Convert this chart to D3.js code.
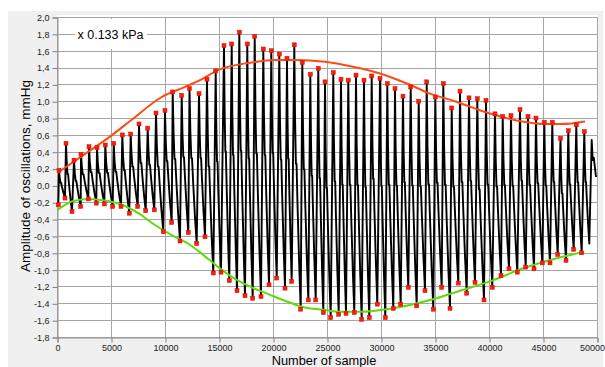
<!DOCTYPE html>
<html><head><meta charset="utf-8">
<script src="https://cdn.jsdelivr.net/npm/d3@7"></script>
<style>body{margin:0;background:#fff}svg{display:block}text{font-family:"Liberation Sans",Arial,sans-serif}</style>
</head><body><svg id="c" width="605" height="367"></svg>
<script>
// ---- data (sample number, mmHg) ----
const troughX = [120,741,1389,2194,2898,3639,4380,5157,5926,6694,7472,8213,9009,9843,10620,11389,12157,12935,13704,14472,15185,15954,16667,17407,18120,18889,19630,20343,21111,21731,22565,23269,23954,24657,25343,26083,26759,27528,28213,28917,29657,30398,31139,31824,32528,33306,34074,34843,35620,36389,37157,37935,38704,39537,40306,41111,41852,42620,43398,44167,44935,45648,46361,47130,47843,48583];
const troughY = [-0.23,-0.15,-0.31,-0.25,-0.16,-0.21,-0.22,-0.25,-0.25,-0.33,-0.25,-0.30,-0.29,-0.55,-0.44,-0.66,-0.56,-0.69,-0.61,-1.04,-1.03,-1.13,-1.25,-1.31,-1.34,-1.32,-1.18,-1.10,-1.22,-1.14,-1.47,-1.36,-1.36,-1.51,-1.57,-1.53,-1.52,-1.51,-1.59,-1.57,-1.41,-1.57,-1.46,-1.41,-1.21,-1.43,-1.25,-1.47,-1.21,-1.46,-1.16,-1.28,-1.15,-1.36,-1.21,-1.07,-0.99,-1.03,-0.97,-0.99,-0.92,-0.92,-0.82,-0.89,-0.76,-0.80];
const peakX = [185,833,1574,2222,2963,3704,4472,5250,6046,6824,7593,8398,9167,10000,10713,11546,12269,13148,13889,14694,15463,16176,16880,17620,18306,19102,19843,20583,21296,21972,22713,23454,24194,24815,25583,26296,26972,27685,28426,29139,29907,30583,31296,32037,32750,33491,34231,35028,35769,36546,37315,38148,38917,39722,40556,41269,42037,42870,43611,44352,45120,45861,46620,47343,48083,48824];
const peakY = [0.18,0.50,0.30,0.37,0.46,0.45,0.48,0.50,0.60,0.61,0.73,0.68,0.86,0.89,1.11,1.07,1.15,1.09,1.26,1.36,1.66,1.68,1.82,1.68,1.77,1.62,1.60,1.56,1.51,1.67,1.46,1.32,1.39,1.23,1.34,1.26,1.25,1.31,1.25,1.30,1.27,1.21,1.15,1.06,1.17,1.00,1.23,1.05,1.21,0.92,1.12,1.04,1.03,1.01,0.85,0.82,0.83,0.90,0.82,0.80,0.75,0.75,0.56,0.65,0.72,0.64];
// unmarked last pulse at the right edge
const tailX = [49287,49509,49600,49700,49800,49907];
const tailY = [-0.69,0.54,0.30,0.33,0.22,0.10];
// pulse descent shape: [time fraction peak->next trough, level fraction]
const pulseShape = [[0,1],[0.12,0.72],[0.25,0.55],[0.35,0.55],[0.5,0.4],[0.75,0.18],[1,0]];
// envelopes
const upperEnvX = [60,2435,4907,6917,9694,11852,13241,14907,18028,20185,22037,24815,27407,29907,32407,34537,36852,39907,43056,45185,46759,48889];
const upperEnvY = [0.15,0.36,0.58,0.78,1.05,1.17,1.25,1.37,1.46,1.49,1.49,1.47,1.41,1.33,1.21,1.09,1.00,0.86,0.76,0.73,0.73,0.76];
const lowerEnvX = [60,1361,2898,4444,5991,7528,9074,10620,12130,13398,14935,16481,18028,19565,21111,22657,24815,26204,28056,30528,32991,35157,37315,40300,43028,46111,48731];
const lowerEnvY = [-0.29,-0.19,-0.16,-0.18,-0.23,-0.33,-0.47,-0.59,-0.69,-0.81,-0.97,-1.11,-1.21,-1.29,-1.37,-1.44,-1.48,-1.50,-1.50,-1.47,-1.41,-1.34,-1.25,-1.13,-0.99,-0.87,-0.79];
const xTicks = [0,5000,10000,15000,20000,25000,30000,35000,40000,45000,50000];
const yTicks = [2.0,1.8,1.6,1.4,1.2,1.0,0.8,0.6,0.4,0.2,0.0,-0.2,-0.4,-0.6,-0.8,-1.0,-1.2,-1.4,-1.6,-1.8];
const yTickLabels = ["2,0","1,8","1,6","1,4","1,2","1,0","0,8","0,6","0,4","0,2","0,0","-0,2","-0,4","-0,6","-0,8","-1,0","-1,2","-1,4","-1,6","-1,8"];

// ---- drawing ----
const svg = d3.select("#c");
const L = 57, R = 597, T = 17, B = 337;
const x = d3.scaleLinear().domain([0, 50000]).range([L, R]);
const y = d3.scaleLinear().domain([-1.8, 2.0]).range([B, T]);

svg.append("rect").attr("x", 8).attr("y", 11).attr("width", 595).attr("height", 356).attr("fill", "#f0f0f0");
svg.append("rect").attr("x", L).attr("y", 15).attr("width", R - L + 1).attr("height", B - 15).attr("fill", "#fff");

// grid
const grid = svg.append("g").attr("stroke", "#a6a6a6").attr("stroke-width", 1);
yTicks.forEach(v => grid.append("line").attr("x1", L).attr("x2", R).attr("y1", Math.round(y(v)) + 0.5).attr("y2", Math.round(y(v)) + 0.5));
xTicks.forEach(v => grid.append("line").attr("y1", T).attr("y2", B).attr("x1", Math.round(x(v)) + 0.5).attr("x2", Math.round(x(v)) + 0.5));

// axes
const yAxis = d3.axisLeft(y).tickValues(yTicks).tickSize(5).tickPadding(3)
  .tickFormat(d => yTickLabels[yTicks.indexOf(d)]);
const gy = svg.append("g").attr("transform", `translate(${L + 0.5},0.5)`).call(yAxis);
const xAxis = d3.axisBottom(x).tickValues(xTicks).tickSize(5).tickPadding(2).tickFormat(d => String(d));
const gx = svg.append("g").attr("transform", `translate(0.5,${B + 0.5})`).call(xAxis);
[gx, gy].forEach(g => {
  g.select(".domain").attr("stroke", "#909090");
  g.selectAll(".tick line").attr("stroke", "#808080");
  g.selectAll("text").attr("font-size", 9).attr("fill", "#222").attr("font-family", "'Liberation Sans',Arial,sans-serif");
});
// keep the last x label inside the window
gx.selectAll(".tick text").filter(d => d === xTicks[xTicks.length - 1])
  .attr("text-anchor", "end").attr("x", 604 - x(xTicks[xTicks.length - 1]));

// signal
const pts = [];
for (let i = 0; i < peakX.length; i++) {
  pts.push([troughX[i], troughY[i]]);
  pts.push([peakX[i], peakY[i]]);
  const nx = i + 1 < troughX.length ? troughX[i + 1] : tailX[0];
  const ny = i + 1 < troughY.length ? troughY[i + 1] : tailY[0];
  for (let k = 1; k < pulseShape.length - 1; k++) {
    const [ft, fl] = pulseShape[k];
    pts.push([peakX[i] + ft * (nx - peakX[i]), ny + fl * (peakY[i] - ny)]);
  }
}
tailX.forEach((v, i) => pts.push([v, tailY[i]]));
const line = d3.line().x(d => x(d[0])).y(d => y(d[1]));
svg.append("path").attr("d", line(pts)).attr("fill", "none").attr("stroke", "#000").attr("stroke-width", 1.9).attr("stroke-linejoin", "round");

// envelopes
const env = d3.line().x(d => x(d[0])).y(d => y(d[1])).curve(d3.curveMonotoneX);
svg.append("path").attr("d", env(upperEnvX.map((v, i) => [v, upperEnvY[i]])))
  .attr("fill", "none").attr("stroke", "#ff4a14").attr("stroke-width", 2);
svg.append("path").attr("d", env(lowerEnvX.map((v, i) => [v, lowerEnvY[i]])))
  .attr("fill", "none").attr("stroke", "#62d80c").attr("stroke-width", 2);

// markers
const mk = svg.append("g");
const addMarks = (xs, ys) => xs.forEach((v, i) => mk.append("rect")
  .attr("x", x(v) - 2).attr("y", y(ys[i]) - 2).attr("width", 4).attr("height", 4)
  .attr("fill", "#ff1a0a").attr("stroke", "#d01000").attr("stroke-width", 0.5));
addMarks(peakX, peakY);
addMarks(troughX, troughY);

// annotation
svg.append("rect").attr("x", 75).attr("y", 19).attr("width", 72).attr("height", 30).attr("fill", "#fff");
svg.append("text").attr("x", 77.5).attr("y", 39).attr("font-size", 12.5).attr("fill", "#000").text("x 0.133 kPa");

// axis titles
svg.append("text").attr("transform", "translate(30,176) rotate(-90)").attr("text-anchor", "middle")
  .attr("font-size", 13.5).attr("fill", "#000").text("Amplitude of oscillations, mmHg");
svg.append("text").attr("x", 324).attr("y", 364.6).attr("text-anchor", "middle")
  .attr("font-size", 12.8).attr("fill", "#000").text("Number of sample");
</script></body></html>
